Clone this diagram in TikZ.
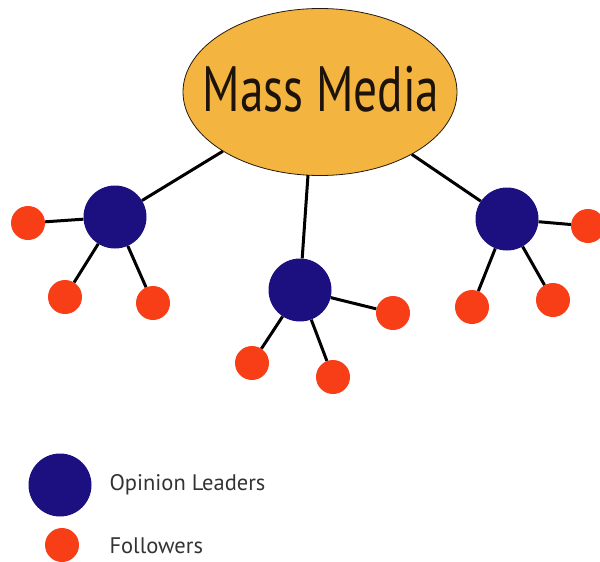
\documentclass[tikz,border=0pt]{standalone}
\usepackage{fontspec}
\setmainfont{PT Sans}
\usetikzlibrary{shapes.geometric}
\definecolor{mediagold}{HTML}{F3B540}
\definecolor{leaderblue}{HTML}{1C0F80}
\definecolor{followerred}{HTML}{F83E17}
\begin{document}
\begin{tikzpicture}[x=1pt,y=-1pt,
  leader/.style={circle,fill=leaderblue,minimum size=63pt,inner sep=0pt},
  follower/.style={circle,fill=followerred,minimum size=34pt,inner sep=0pt},
  link/.style={black,line width=3pt},
  keytext/.style={anchor=west,font=\fontsize{22.5}{22.5}\selectfont,text=black!80}]
\useasboundingbox (0,0) rectangle (600,562);
% mass media
\node [ellipse,draw=black!80!brown,line width=0.8pt,fill=mediagold,
  minimum width=274pt,minimum height=167pt,inner sep=0pt] (media) at (320,92) {};
\node [inner sep=0pt,text=black!85!brown,font=\fontsize{64}{64}\selectfont] (medialabel) at (321,89)
  {\scalebox{0.74}[1]{Mass Media}};
\coordinate (mediabottom) at (308,175);
% opinion leaders
\node [leader] (left) at (115,217) {};
\node [leader] (mid) at (300,290) {};
\node [leader] (right) at (507,219) {};
% followers
\node [follower] (l1) at (28,223) {};
\node [follower] (l2) at (65,297) {};
\node [follower] (l3) at (153,303) {};
\node [follower] (m1) at (393,313) {};
\node [follower] (m2) at (252,363) {};
\node [follower] (m3) at (333,377) {};
\node [follower] (r1) at (588,226) {};
\node [follower] (r2) at (472,307) {};
\node [follower] (r3) at (553,300) {};
% links
\draw [link] (media) -- (left);
\draw [link] (mediabottom) -- (mid);
\draw [link] (media) -- (right);
\draw [link] (left) -- (l1);
\draw [link] (left) -- (l2);
\draw [link] (left) -- (l3);
\draw [link] (mid) -- (m1);
\draw [link] (mid) -- (m2);
\draw [link] (mid) -- (m3);
\draw [link] (right) -- (r1);
\draw [link] (right) -- (r2);
\draw [link] (right) -- (r3);
% legend
\node [leader] (keyleader) at (60,485) {};
\node [follower] (keyfollower) at (62,545) {};
\node [keytext] (keyleadertext) at (106,485) {Opinion Leaders};
\node [keytext] (keyfollowertext) at (106,546) {Followers};
\end{tikzpicture}
\end{document}
